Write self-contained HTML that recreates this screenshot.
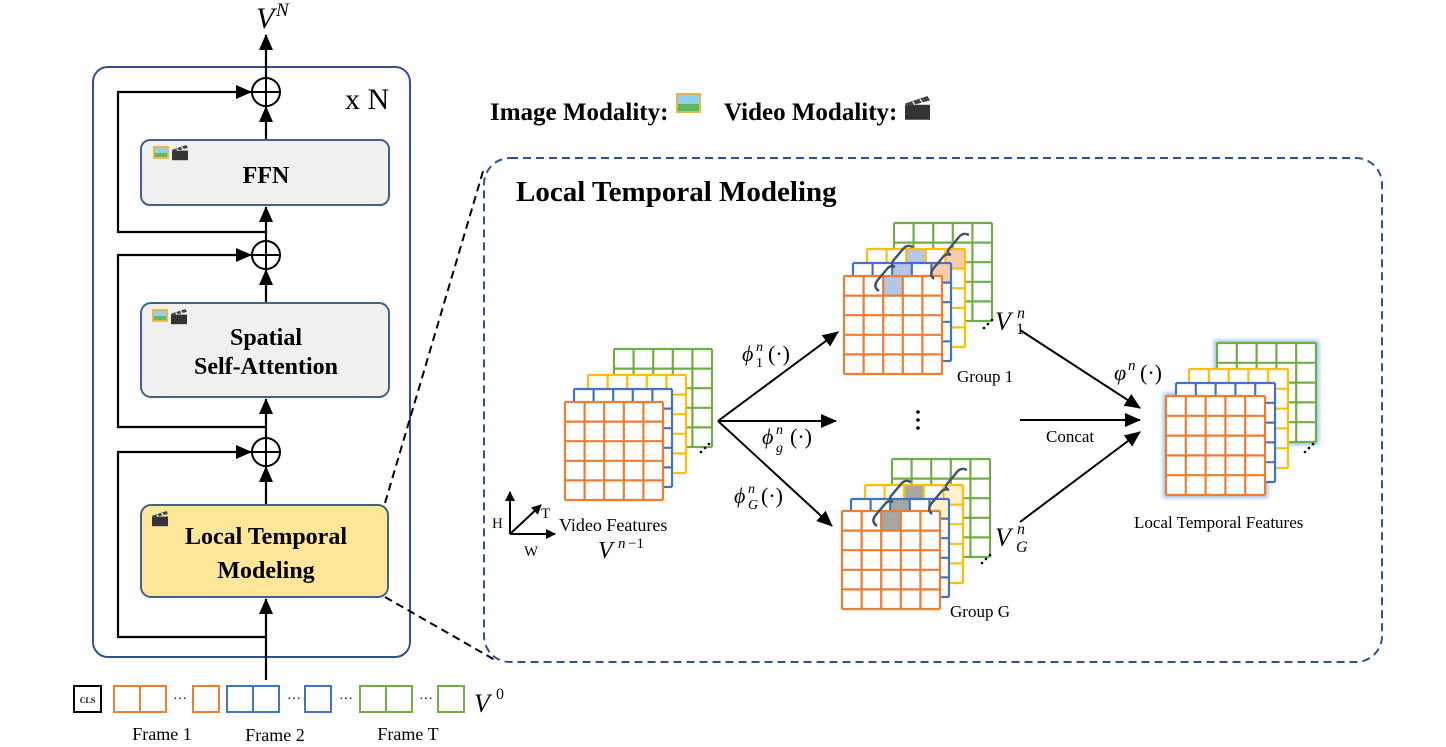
<!DOCTYPE html>
<html><head><meta charset="utf-8"><style>
html,body{margin:0;padding:0;background:#fff;}
svg{display:block;font-family:"Liberation Serif",serif;}
</style></head><body>
<svg id="s" width="1446" height="747" viewBox="0 0 1446 747" xmlns="http://www.w3.org/2000/svg">
<defs>
<marker id="ah" markerWidth="10" markerHeight="10" refX="9" refY="5" orient="auto" markerUnits="userSpaceOnUse" viewBox="0 0 10 10"><path d="M0,0 L10,5 L0,10 z" fill="#000"/></marker>
<marker id="ab" markerWidth="16" markerHeight="14" refX="15" refY="7" orient="auto" markerUnits="userSpaceOnUse" viewBox="0 0 16 14"><path d="M0,0 L16,7 L0,14 z" fill="#000"/></marker>
<filter id="glow" x="-10%" y="-10%" width="120%" height="120%"><feGaussianBlur stdDeviation="2"/></filter>
</defs>

<rect x="93" y="67" width="317" height="590" rx="15" fill="none" stroke="#2f528f" stroke-width="2"/>
<text x="345" y="109" font-size="30">x N</text>
<line x1="266" y1="680" x2="266" y2="599" stroke="#000" stroke-width="2.2" marker-end="url(#ab)"/>
<line x1="266" y1="505" x2="266" y2="467" stroke="#000" stroke-width="2.2" marker-end="url(#ab)"/>
<line x1="266" y1="438" x2="266" y2="399" stroke="#000" stroke-width="2.2" marker-end="url(#ab)"/>
<line x1="266" y1="303" x2="266" y2="270" stroke="#000" stroke-width="2.2" marker-end="url(#ab)"/>
<line x1="266" y1="241" x2="266" y2="207" stroke="#000" stroke-width="2.2" marker-end="url(#ab)"/>
<line x1="266" y1="140" x2="266" y2="107" stroke="#000" stroke-width="2.2" marker-end="url(#ab)"/>
<line x1="266" y1="78" x2="266" y2="35" stroke="#000" stroke-width="2.2" marker-end="url(#ab)"/>
<path d="M266,232 H118 V92 H251" fill="none" stroke="#000" stroke-width="2.2" marker-end="url(#ab)"/>
<path d="M266,427 H118 V255 H251" fill="none" stroke="#000" stroke-width="2.2" marker-end="url(#ab)"/>
<path d="M266,637 H118 V452 H251" fill="none" stroke="#000" stroke-width="2.2" marker-end="url(#ab)"/>
<g fill="#fff" stroke="#000" stroke-width="2">
<circle cx="266" cy="92" r="14"/><circle cx="266" cy="255" r="14"/><circle cx="266" cy="452" r="14"/>
</g>
<g stroke="#000" stroke-width="2">
<line x1="252" y1="92" x2="280" y2="92"/><line x1="266" y1="78" x2="266" y2="106"/>
<line x1="252" y1="255" x2="280" y2="255"/><line x1="266" y1="241" x2="266" y2="269"/>
<line x1="252" y1="452" x2="280" y2="452"/><line x1="266" y1="438" x2="266" y2="466"/>
</g>
<text x="256" y="28" font-size="30" font-style="italic">V</text><text x="276" y="16" font-size="19" font-style="italic">N</text>

<rect x="141" y="140" width="248" height="65" rx="9" fill="#f0f0f0" stroke="#41618f" stroke-width="2"/>
<text x="266" y="183" font-size="24" font-weight="bold" text-anchor="middle">FFN</text>
<rect x="141" y="303" width="248" height="94" rx="10" fill="#f0f0f0" stroke="#41618f" stroke-width="2"/>
<text x="266" y="345" font-size="24" font-weight="bold" text-anchor="middle">Spatial</text>
<text x="266" y="374" font-size="24" font-weight="bold" text-anchor="middle">Self-Attention</text>
<rect x="141" y="505" width="247" height="92" rx="10" fill="#ffe699" stroke="#41618f" stroke-width="2"/>
<text x="266" y="544" font-size="24" font-weight="bold" text-anchor="middle">Local Temporal</text>
<text x="266" y="578" font-size="24" font-weight="bold" text-anchor="middle">Modeling</text>

<g id="icons"></g>

<line x1="385" y1="503" x2="484" y2="168" stroke="#000" stroke-width="2" stroke-dasharray="8,5"/>
<line x1="385" y1="597" x2="495" y2="660" stroke="#000" stroke-width="2" stroke-dasharray="8,5"/>
<rect x="484" y="158" width="898" height="504" rx="26" fill="none" stroke="#2f528f" stroke-width="2" stroke-dasharray="8,5"/>

<text x="490" y="120" font-size="25" font-weight="bold">Image Modality:</text>
<text x="724" y="120" font-size="25" font-weight="bold">Video Modality:</text>
<text x="516" y="201" font-size="29" font-weight="bold">Local Temporal Modeling</text>

<g id="grids"></g>

<g stroke="#000" stroke-width="2" fill="none">
<line x1="718" y1="421" x2="838" y2="332" marker-end="url(#ab)"/>
<line x1="718" y1="421" x2="836" y2="421" marker-end="url(#ab)"/>
<line x1="718" y1="421" x2="832" y2="526" marker-end="url(#ab)"/>
<line x1="1020" y1="330" x2="1140" y2="408" marker-end="url(#ab)"/>
<line x1="1020" y1="420" x2="1140" y2="420" marker-end="url(#ab)"/>
<line x1="1020" y1="522" x2="1140" y2="432" marker-end="url(#ab)"/>
<line x1="510" y1="534" x2="510" y2="492" marker-end="url(#ah)"/>
<line x1="510" y1="534" x2="555" y2="534" marker-end="url(#ah)"/>
<line x1="510" y1="534" x2="541" y2="505" marker-end="url(#ah)"/>
</g>
<text x="492" y="528" font-size="15">H</text>
<text x="541" y="518" font-size="15">T</text>
<text x="524" y="556" font-size="15">W</text>

<g font-style="italic" font-size="22">
<text x="742" y="361">ϕ</text><text x="756" y="351" font-size="14">n</text><text x="756" y="367" font-size="14" font-style="normal">1</text><text x="768" y="361" font-style="normal">(·)</text>
<text x="762" y="444">ϕ</text><text x="776" y="434" font-size="14">n</text><text x="776" y="452" font-size="14">g</text><text x="790" y="444" font-style="normal">(·)</text>
<text x="734" y="503">ϕ</text><text x="748" y="493" font-size="14">n</text><text x="748" y="509" font-size="14">G</text><text x="761" y="503" font-style="normal">(·)</text>
<text x="1114" y="380">φ</text><text x="1128" y="370" font-size="15">n</text><text x="1140" y="380" font-style="normal">(·)</text>
<text x="995" y="330" font-size="26">V</text><text x="1017" y="318" font-size="16">n</text><text x="1016" y="334" font-size="16" font-style="normal">1</text>
<text x="995" y="546" font-size="26">V</text><text x="1017" y="534" font-size="16">n</text><text x="1016" y="552" font-size="16">G</text>
<text x="598" y="558" font-size="24">V</text><text x="618" y="548" font-size="15">n</text><text x="628" y="548" font-size="15" font-style="normal">−1</text>
<text x="474" y="712" font-size="26">V</text><text x="496" y="699" font-size="16" font-style="normal">0</text>
</g>
<text x="559" y="531" font-size="18">Video Features</text>
<text x="957" y="382" font-size="17">Group 1</text>
<text x="950" y="617" font-size="17">Group G</text>
<text x="1046" y="442" font-size="17">Concat</text>
<text x="1134" y="528" font-size="17">Local Temporal Features</text>
<g fill="#000"><circle cx="918" cy="412" r="1.8"/><circle cx="918" cy="420" r="1.8"/><circle cx="918" cy="428" r="1.8"/></g>

<rect x="74" y="686" width="27" height="26" fill="#fff" stroke="#000" stroke-width="2"/>
<text x="87.5" y="703" font-size="8" font-weight="bold" text-anchor="middle">CLS</text>
<g fill="none" stroke-width="2">
<g stroke="#ed7d31"><rect x="114" y="686" width="26" height="26"/><rect x="140" y="686" width="26" height="26"/><rect x="193" y="686" width="26" height="26"/></g>
<g stroke="#4472c4"><rect x="227" y="686" width="26" height="26"/><rect x="253" y="686" width="26" height="26"/><rect x="305" y="686" width="26" height="26"/></g>
<g stroke="#70ad47"><rect x="360" y="686" width="26" height="26"/><rect x="386" y="686" width="26" height="26"/><rect x="438" y="686" width="26" height="26"/></g>
</g>
<g font-size="14"><text x="173" y="703">···</text><text x="287" y="703">···</text><text x="339" y="703">···</text><text x="419" y="703">···</text></g>
<text x="162" y="740" font-size="18" text-anchor="middle">Frame 1</text>
<text x="275" y="741" font-size="18" text-anchor="middle">Frame 2</text>
<text x="408" y="740" font-size="18" text-anchor="middle">Frame T</text>
</svg>
<script>
const NS="http://www.w3.org/2000/svg";
const G=document.getElementById('grids');
function el(t,a,p){const e=document.createElementNS(NS,t);for(const k in a)e.setAttribute(k,a[k]);(p||G).appendChild(e);return e;}
function grid(x,y,s,col,hl){
  const c=s/5;
  el('rect',{x:x,y:y,width:s,height:s,fill:'#fff'});
  if(hl)hl.forEach(h=>el('rect',{x:x+h[0]*c,y:y+h[1]*c,width:c,height:c,fill:h[2]}));
  for(let i=0;i<=5;i++){
    el('line',{x1:x+i*c,y1:y,x2:x+i*c,y2:y+s,stroke:col,'stroke-width':2.2});
    el('line',{x1:x,y1:y+i*c,x2:x+s,y2:y+i*c,stroke:col,'stroke-width':2.2});
  }
}
const O='#ed7d31',B='#4472c4',Y='#ffc000',Gr='#70ad47';
function stack(ox,oy,s,offs,hls,glow){
  const cols=[Gr,Y,B,O];
  if(glow){el('rect',{x:ox+offs[0][0]-3,y:oy+offs[0][1]-3,width:s+6,height:s+6,fill:'#9dc3e6',filter:'url(#glow)'});
    el('rect',{x:ox-3,y:oy-3,width:s+6,height:s+6,fill:'#9dc3e6',filter:'url(#glow)'});}
  for(let i=0;i<4;i++){const o=i<3?offs[i]:[0,0];grid(ox+o[0],oy+o[1],s,cols[i],hls?hls[i]:null);}
}
stack(565,402,98,[[49,-53],[23,-27],[9,-13]]);
stack(844,276,98,[[50,-53],[23,-27],[9,-13]],[null,[[2,0,'#b4c7e7'],[4,0,'#f8cbad']],[[2,0,'#b4c7e7'],[4,0,'#f8cbad']],[[2,0,'#b4c7e7']]]);
stack(842,511,98,[[50,-52],[23,-26],[9,-12]],[null,[[2,0,'#a6a6a6'],[4,0,'#fff2cc']],[[2,0,'#a6a6a6'],[4,0,'#fff2cc']],[[2,0,'#a6a6a6']]]);
stack(1166,396,99,[[51,-53],[23,-27],[10,-13]],null,true);
[[844,276],[842,511]].forEach(p=>{const x=p[0],y=p[1];
 el('path',{d:`M${x+35},${y+15} q-6,-4 -2,-10 l10,-12 q3,-4 8,-2 q-5,-2 -2,-6 l10,-12 q4,-5 10,-2`,fill:'none',stroke:'#44546a','stroke-width':2.5});
 el('path',{d:`M${x+90},${y+3} q-5,-4 -1,-10 l10,-12 q3,-4 8,-2 q-5,-2 -2,-6 l10,-12 q4,-5 10,-2`,fill:'none',stroke:'#44546a','stroke-width':2.5});
});
[[701,452],[984,328],[982,563],[1305,452]].forEach(p=>{for(let i=0;i<3;i++)el('circle',{cx:p[0]+i*4,cy:p[1]-i*4,r:1.3,fill:'#000'});});
const I=document.getElementById('icons');
function img(x,y,w){const h=w*0.8;el('rect',{x:x,y:y,width:w,height:h,fill:'#e8b64a'},I);el('rect',{x:x+2,y:y+2,width:w-4,height:h-4,fill:'#8fd0f0'},I);el('rect',{x:x+2,y:y+h*0.55,width:w-4,height:h*0.45-2,fill:'#5cb85c'},I);}
function clap(x,y,w){el('rect',{x:x,y:y+w*0.35,width:w,height:w*0.6,fill:'#333'},I);el('path',{d:`M${x},${y+w*0.3} L${x+w*0.9},${y} L${x+w},${y+w*0.18} L${x+w*0.1},${y+w*0.42}z`,fill:'#444'},I);
 el('line',{x1:x+w*0.3,y1:y+w*0.22,x2:x+w*0.4,y2:y+w*0.36,stroke:'#ddd','stroke-width':1.5},I);el('line',{x1:x+w*0.6,y1:y+w*0.12,x2:x+w*0.7,y2:y+w*0.27,stroke:'#ddd','stroke-width':1.5},I);}
img(153,146,16);clap(172,145,16);
img(152,309,16);clap(171,309,16);
clap(152,511,16);
img(676,93,25);clap(905,96,25);
</script>
</body></html>
